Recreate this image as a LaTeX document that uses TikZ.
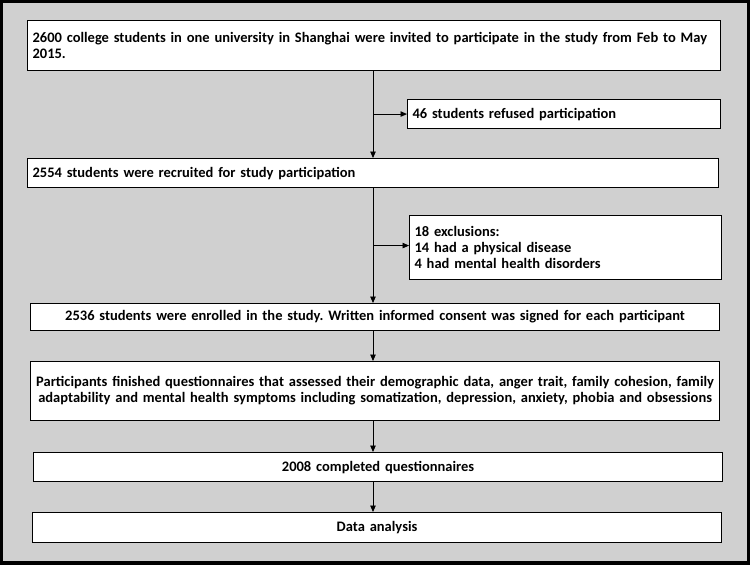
\documentclass[tikz,border=0pt]{standalone}
\usepackage{fontspec}
\setmainfont{Carlito}
\usetikzlibrary{arrows.meta,positioning}
\definecolor{panelgray}{RGB}{208,208,208}
\frenchspacing

\begin{document}
\begin{tikzpicture}[y=-1pt,x=1pt,
	box/.style={draw, fill=white, line width=1.1pt, anchor=north west, inner xsep=5pt, inner ysep=0pt,
		font=\bfseries\fontsize{14.5}{16}\selectfont},
	lbox/.style={box, align=left},
	cbox/.style={box, align=center},
	arr/.style={line width=0.9pt, -{Triangle[length=6.5pt,width=5.5pt]}}]
	\useasboundingbox (0,0) rectangle (750,565);
	\fill[black] (0,0) rectangle (750,565);
	\fill[panelgray] (3,3) rectangle (747,561);

	\node[lbox, minimum width=693pt, minimum height=50pt, text width=683pt] (invited) at (27,20)
		{2600 college students in one university in Shanghai were invited to participate in the study from Feb to May 2015.};
	\node[lbox, minimum width=313pt, minimum height=29pt, text width=303pt] (refused) at (407,99)
		{46 students refused participation};
	\node[lbox, minimum width=691pt, minimum height=29pt, text width=681pt] (recruited) at (27,158)
		{2554 students were recruited for study participation};
	\node[lbox, minimum width=312pt, minimum height=64pt, text width=302pt] (excluded) at (409,215)
		{18 exclusions:\\14 had a physical disease\\4 had mental health disorders};
	\node[cbox, minimum width=689pt, minimum height=27pt, text width=679pt] (enrolled) at (30,303)
		{2536 students were enrolled in the study. Written informed consent was signed for each participant};
	\node[cbox, inner xsep=1pt, minimum width=689pt, minimum height=59pt, text width=687pt] (survey) at (30,361)
		{Participants finished questionnaires that assessed their demographic data, anger trait, family cohesion, family\\adaptability and mental health symptoms including somatization, depression, anxiety, phobia and obsessions};
	\node[cbox, minimum width=689pt, minimum height=29pt, text width=679pt] (completed) at (33,452)
		{2008 completed questionnaires};
	\node[cbox, minimum width=689pt, minimum height=30pt, text width=679pt] (analysis) at (32,512)
		{Data analysis};

	\coordinate (spine) at (373,0);
	\draw[arr] (invited.south -| spine) -- (recruited.north -| spine);
	\draw[arr] (refused.west -| spine) -- (refused.west);
	\draw[arr] (recruited.south -| spine) -- (enrolled.north -| spine);
	\draw[arr] ([yshift=2pt]excluded.west -| spine) -- ([yshift=2pt]excluded.west);
	\draw[arr] (enrolled.south -| spine) -- (survey.north -| spine);
	\draw[arr] (survey.south -| spine) -- (completed.north -| spine);
	\draw[arr] (completed.south -| spine) -- (analysis.north -| spine);
\end{tikzpicture}
\end{document}
